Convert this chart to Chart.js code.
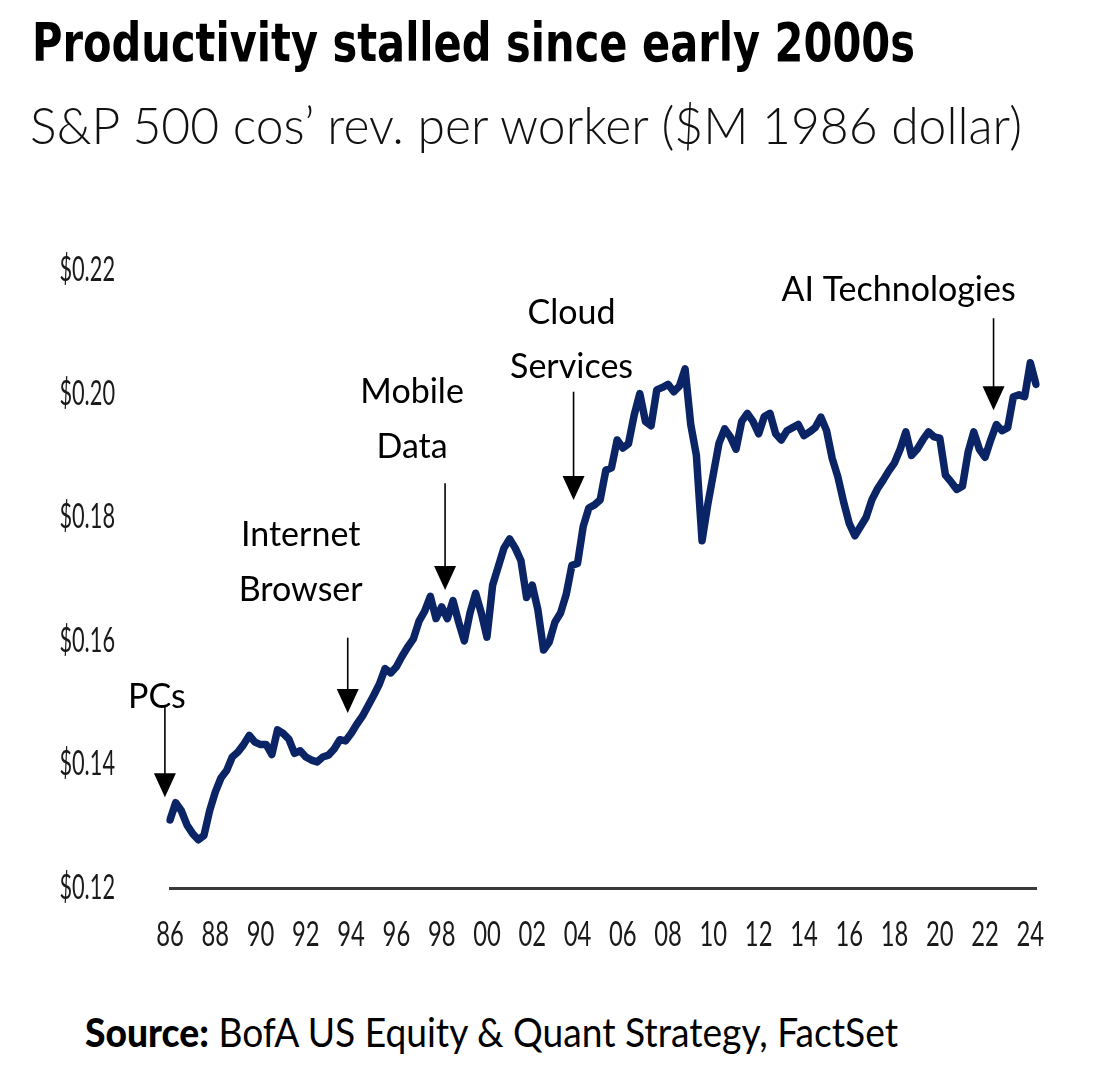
<!DOCTYPE html>
<html>
<head>
<meta charset="utf-8">
<script src="https://cdn.jsdelivr.net/npm/chart.js@4"></script>
<style>
  html, body { margin: 0; padding: 0; background: #fff; }
  body { width: 1102px; height: 1080px; position: relative; overflow: hidden;
         font-family: "DejaVu Sans Condensed", "DejaVu Sans", sans-serif; color: #000; }
  .txt { position: absolute; white-space: nowrap; line-height: 1; transform-origin: 0 0; }
  #title { left: 32px; top: 16px; font-weight: bold; font-size: 54px; }
  #subtitle { left: 30px; top: 98px; font-size: 52px; font-family: Lato, "Open Sans", sans-serif; font-weight: 300; color: #111; }
  #source { left: 85px; top: 1012px; font-size: 40px; font-family: Lato, "Open Sans", sans-serif; }
  #source b { font-weight: 900; }
  #wrap { position: absolute; left: 0; top: 230px; width: 1102px; height: 740px; }
</style>
</head>
<body>
<div class="txt" id="title">Productivity stalled since early 2000s</div>
<div class="txt" id="subtitle">S&amp;P 500 cos’ rev. per worker ($M 1986 dollar)</div>
<div class="txt" id="source"><b>Source:</b> BofA US Equity &amp; Quant Strategy, FactSet</div>
<div id="wrap"><canvas id="chart"></canvas></div>
<script>
// 季度数据：1986Q1 - 2024Q2
const firstYear = 1986;
const quarters = [];
for (let y = firstYear; y <= 2024; y++) {
    for (let q = 1; q <= 4; q++) {
        if (y === 2024 && q > 2) break;
        quarters.push(y + 'Q' + q);
    }
}

// 每名员工收入（百万美元，1986年美元）
const revPerWorker = [
    0.1310, 0.1338, 0.1325, 0.1302, 0.1288, 0.1278, 0.1285, 0.1325, 0.1355, 0.1378, 0.1390, 0.1412,
    0.1420, 0.1432, 0.1447, 0.1436, 0.1432, 0.1432, 0.1416, 0.1456, 0.1450, 0.1441, 0.1418, 0.1422,
    0.1412, 0.1407, 0.1404, 0.1412, 0.1415, 0.1425, 0.1440, 0.1438, 0.1450, 0.1465, 0.1478, 0.1495,
    0.1512, 0.1530, 0.1555, 0.1548, 0.1558, 0.1575, 0.1590, 0.1603, 0.1632, 0.1648, 0.1672, 0.1636,
    0.1655, 0.1636, 0.1665, 0.1630, 0.1600, 0.1645, 0.1677, 0.1645, 0.1606, 0.1690, 0.1720, 0.1750,
    0.1765, 0.1750, 0.1730, 0.1670, 0.1690, 0.1650, 0.1585, 0.1598, 0.1630, 0.1645, 0.1675, 0.1722,
    0.1725, 0.1785, 0.1815, 0.1820, 0.1828, 0.1876, 0.1880, 0.1925, 0.1912, 0.1919, 0.1965, 0.2000,
    0.1955, 0.1948, 0.2006, 0.2010, 0.2015, 0.2003, 0.2012, 0.2040, 0.1950, 0.1900, 0.1762, 0.1820,
    0.1870, 0.1920, 0.1943, 0.1930, 0.1910, 0.1955, 0.1968, 0.1955, 0.1935, 0.1963, 0.1968, 0.1935,
    0.1925, 0.1940, 0.1945, 0.1950, 0.1932, 0.1938, 0.1945, 0.1962, 0.1940, 0.1895, 0.1865, 0.1825,
    0.1790, 0.1770, 0.1785, 0.1800, 0.1828, 0.1846, 0.1860, 0.1875, 0.1888, 0.1910, 0.1938, 0.1900,
    0.1910, 0.1925, 0.1938, 0.1930, 0.1928, 0.1868, 0.1857, 0.1845, 0.1850, 0.1905, 0.1938, 0.1910,
    0.1897, 0.1925, 0.1950, 0.1940, 0.1945, 0.1995, 0.1998, 0.1995, 0.2050, 0.2015
];

const yTicks = [0.12, 0.14, 0.16, 0.18, 0.20, 0.22];

// 技术浪潮标注
const waveLabels = [['PCs'], ['Internet', 'Browser'], ['Mobile', 'Data'], ['Cloud', 'Services'], ['AI Technologies']];
const waveAt = [-0.9, 31.4, 48.6, 71.3, 145.5];      // quarter index
const waveTip = [0.1347, 0.1483, 0.1682, 0.1828, 0.1973];
const waveTop = [0.1496, 0.1605, 0.1855, 0.2003, 0.2122];

// text placement relative to arrow top (px)
const waveText = [
    {dx: -8, dy: [-8]},
    {dx: -47, dy: [-103, -48]},
    {dx: -33, dy: [-91, -36]},
    {dx: -2, dy: [-79, -25]},
    {dx: -95, dy: [-28]}
];

const tickFont = '34px Lato, "DejaVu Sans", sans-serif';
const noteFont = '34px Lato, "Open Sans", sans-serif';

// 横向压缩文字，模仿原图的窄体字
function fitWidth(id, target) {
    const el = document.getElementById(id);
    const w = el.getBoundingClientRect().width;
    el.style.transform = 'scaleX(' + (target / w) + ')';
}
fitWidth('title', 883);
fitWidth('subtitle', 992);
fitWidth('source', 813);

function yLabel(v) { return '$' + v.toFixed(2); }
function xLabel(index) {
    const lab = quarters[index];
    const yr = parseInt(lab, 10);
    return (lab.endsWith('Q1') && (yr - firstYear) % 2 === 0) ? String(yr).slice(2) : null;
}

// narrow tick labels (canvas has no condensed face here)
function narrowText(ctx, text, x, y, squeeze) {
    ctx.save();
    ctx.translate(x, y);
    ctx.scale(squeeze, 1);
    ctx.fillText(text, 0, 0);
    ctx.restore();
}

const tickPlugin = {
    id: 'narrowTicks',
    afterDraw(chart) {
        const {ctx, chartArea, scales: {x, y}} = chart;
        ctx.save();
        ctx.fillStyle = '#1a1a1a';
        ctx.font = tickFont;
        ctx.textBaseline = 'middle';
        ctx.textAlign = 'right';
        yTicks.forEach(v => narrowText(ctx, yLabel(v), chartArea.left - 55, y.getPixelForValue(v), 0.64));
        ctx.textAlign = 'center';
        quarters.forEach((q, i) => {
            const t = xLabel(i);
            if (t) narrowText(ctx, t, x.getPixelForValue(i), chartArea.bottom + 47, 0.7);
        });
        ctx.restore();
    }
};

const arrowPlugin = {
    id: 'waves',
    afterDatasetsDraw(chart) {
        const {ctx, scales: {x, y}} = chart;
        ctx.save();
        ctx.fillStyle = '#000';
        ctx.strokeStyle = '#000';
        ctx.lineWidth = 1.6;
        ctx.font = noteFont;
        ctx.textAlign = 'center';
        ctx.textBaseline = 'middle';
        waveLabels.forEach((lines, i) => {
            const px = x.getPixelForValue(waveAt[i]);
            const top = y.getPixelForValue(waveTop[i]);
            const tip = y.getPixelForValue(waveTip[i]);
            ctx.beginPath();
            ctx.moveTo(px, top);
            ctx.lineTo(px, tip - 20);
            ctx.stroke();
            ctx.beginPath();
            ctx.moveTo(px - 11, tip - 24);
            ctx.lineTo(px + 11, tip - 24);
            ctx.lineTo(px, tip);
            ctx.closePath();
            ctx.fill();
            lines.forEach((t, j) => {
                ctx.fillText(t, px + waveText[i].dx, top + waveText[i].dy[j]);
            });
        });
        ctx.restore();
    }
};

const ctx = document.getElementById('chart').getContext('2d');
const chart = new Chart(ctx, {
    type: 'line',
    data: {
        labels: quarters,
        datasets: [{
            label: 'S&P 500 rev. per worker',
            data: revPerWorker,
            borderColor: '#0b2466',
            borderWidth: 7.5,
            borderJoinStyle: 'round',
            borderCapStyle: 'round',
            pointRadius: 0,
            tension: 0,
            fill: false
        }]
    },
    options: {
        responsive: true,
        maintainAspectRatio: false,
        animation: false,
        layout: {padding: {top: 40, right: 66, left: 0, bottom: 0}},
        plugins: {
            legend: {display: false},
            tooltip: {enabled: false}
        },
        scales: {
            x: {
                grid: {display: false, drawTicks: false},
                border: {display: true, color: '#3a3a3a', width: 3},
                ticks: {display: false, autoSkip: false, maxRotation: 0},
                afterFit: (axis) => { axis.height = 82; axis.paddingLeft = 0; axis.paddingRight = 0; }
            },
            y: {
                min: yTicks[0],
                max: yTicks[yTicks.length - 1],
                grid: {display: false, drawTicks: false},
                border: {display: false},
                ticks: {display: false},
                afterBuildTicks: (axis) => { axis.ticks = yTicks.map(v => ({value: v})); },
                afterFit: (axis) => { axis.width = 170; axis.paddingTop = 0; axis.paddingBottom = 0; }
            }
        }
    },
    plugins: [arrowPlugin, tickPlugin]
});
</script>
</body>
</html>
